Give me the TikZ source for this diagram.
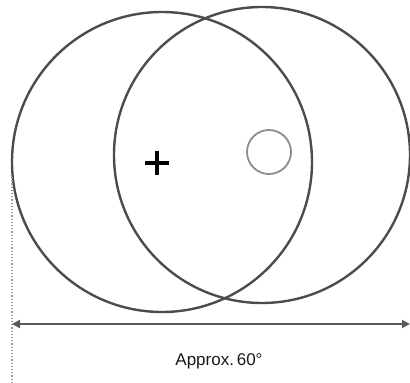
\documentclass[tikz,border=0pt]{standalone}
\usepackage{fontspec}
\setmainfont{Liberation Sans}
\usetikzlibrary{arrows.meta}
\begin{document}
\begin{tikzpicture}[x=1pt,y=-1pt,
  bigcirc/.style={draw=black!70,line width=2.4pt},
  smallcirc/.style={draw=black!45,line width=1.8pt},
  dim/.style={draw=black!65,line width=1.8pt,{Triangle[length=8pt,width=8pt]}-{Triangle[length=8pt,width=8pt]}},
  guide/.style={draw=black!40,line width=1.2pt,dotted}]
\useasboundingbox (0,0) rectangle (410,383);
\draw[bigcirc] (162,162) circle[radius=150];
\draw[bigcirc] (262,155) circle[radius=148];
\draw[smallcirc] (269,152) circle[radius=22];
\node[inner sep=0pt] (plus) at (157,163) {};
\draw[line width=3.2pt,black] (145,163) -- (169,163) (157,151) -- (157,175);
\coordinate (gtop) at (12,177);
\coordinate (gbot) at (12,383);
\draw[guide] (gtop) -- (gbot);
\coordinate (aL) at (12,324);
\coordinate (aR) at (410,324);
\draw[dim] (aL) -- (aR);
\node[font=\fontsize{17}{19}\selectfont,text=black!90] (lbl) at (219,361) {Approx.\,60°};
\end{tikzpicture}
\end{document}
